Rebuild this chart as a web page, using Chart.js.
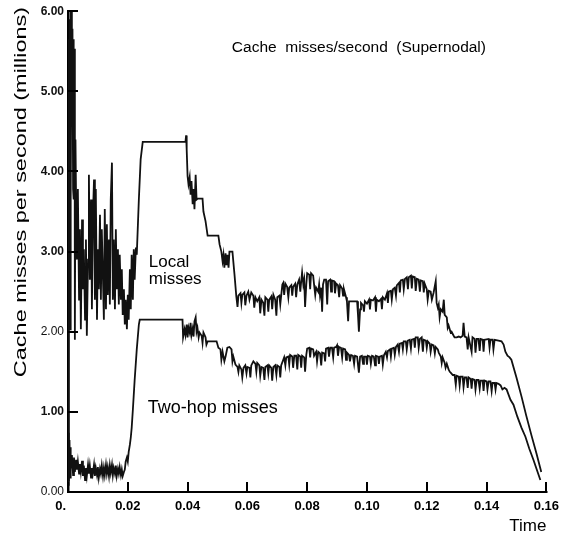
<!DOCTYPE html>
<html>
<head>
<meta charset="utf-8">
<script src="https://cdn.jsdelivr.net/npm/chart.js@4"></script>
<style>
  html, body { margin: 0; padding: 0; background: #fff; }
  #wrap { width: 566px; height: 539px; }
</style>
</head>
<body>
<div id="wrap"><canvas id="misses-chart"></canvas></div>
<script>
const xTickLabels = ['0.', '0.02', '0.04', '0.06', '0.08', '0.10', '0.12', '0.14', '0.16'];
const yTickLabels = ['0.00', '1.00', '2.00', '3.00', '4.00', '5.00', '6.00'];

// [time (s), misses per second (millions)]
const localMisses = [
  [0.0000,0.15],[0.0002,5.65],[0.0003,2.40],[0.0005,5.90],[0.0007,2.03],[0.0008,6.00],[0.0010,3.65],[0.0012,6.00],
  [0.0013,4.65],[0.0015,5.78],[0.0017,3.78],[0.0018,5.65],[0.0020,3.65],[0.0022,5.53],[0.0023,1.90],[0.0025,4.40],
  [0.0027,3.65],[0.0030,2.90],[0.0033,3.78],[0.0037,2.40],[0.0040,3.28],[0.0043,2.03],[0.0047,3.40],[0.0050,2.53],
  [0.0053,3.03],[0.0057,2.15],[0.0060,3.15],[0.0063,1.95],[0.0067,2.90],[0.0070,3.96],[0.0073,2.65],[0.0077,3.65],
  [0.0080,2.28],[0.0083,3.40],[0.0087,3.90],[0.0090,2.40],[0.0093,3.78],[0.0097,2.15],[0.0100,3.03],[0.0103,2.53],
  [0.0107,3.46],[0.0110,2.40],[0.0113,3.28],[0.0117,2.65],[0.0120,2.15],[0.0123,3.53],[0.0127,2.28],[0.0130,3.34],
  [0.0133,2.46],[0.0137,3.15],[0.0140,2.34],[0.0143,3.65],[0.0147,4.11],[0.0150,2.40],[0.0153,3.15],[0.0157,2.28],
  [0.0160,3.28],[0.0163,2.53],[0.0167,3.03],[0.0170,2.34],[0.0173,2.96],[0.0177,2.40],[0.0180,2.78],[0.0183,2.21],
  [0.0187,2.53],[0.0190,2.09],[0.0193,2.40],[0.0197,2.03],[0.0200,2.46],[0.0203,2.15],[0.0207,2.78],[0.0210,2.28],
  [0.0213,2.96],[0.0217,2.40],[0.0220,3.03],[0.0223,2.65],[0.0227,3.05],[0.0230,2.96],[0.0237,3.65],[0.0243,4.15],
  [0.0250,4.37],[0.0393,4.37],[0.0395,4.45],[0.0397,4.27],[0.0400,3.94],[0.0403,3.84],[0.0407,3.93],[0.0410,3.71],
  [0.0413,3.88],[0.0417,3.59],[0.0420,3.78],[0.0423,3.53],[0.0427,3.96],[0.0430,3.65],[0.0433,3.66],[0.0450,3.66],
  [0.0453,3.50],[0.0460,3.38],[0.0467,3.20],[0.0503,3.20],[0.0507,3.09],[0.0513,3.00],[0.0517,2.88],[0.0520,2.96],
  [0.0523,2.80],[0.0527,2.98],[0.0530,2.83],[0.0533,2.96],[0.0537,2.80],[0.0540,3.00],[0.0550,3.00],[0.0557,2.71],
  [0.0563,2.44],[0.0567,2.31],[0.0570,2.45],[0.0577,2.48],[0.0580,2.36],[0.0583,2.46],[0.0590,2.49],[0.0593,2.33],
  [0.0597,2.45],[0.0603,2.50],[0.0607,2.40],[0.0613,2.49],[0.0620,2.45],[0.0623,2.30],[0.0627,2.43],[0.0633,2.38],
  [0.0640,2.43],[0.0643,2.23],[0.0647,2.40],[0.0653,2.36],[0.0657,2.20],[0.0660,2.43],[0.0667,2.40],[0.0670,2.25],
  [0.0673,2.40],[0.0680,2.44],[0.0683,2.28],[0.0687,2.46],[0.0693,2.40],[0.0697,2.20],[0.0700,2.43],[0.0707,2.45],
  [0.0710,2.34],[0.0717,2.59],[0.0720,2.61],[0.0723,2.46],[0.0727,2.60],[0.0733,2.56],[0.0737,2.43],[0.0740,2.55],
  [0.0747,2.58],[0.0750,2.45],[0.0753,2.56],[0.0760,2.60],[0.0763,2.43],[0.0767,2.59],[0.0773,2.65],[0.0777,2.50],
  [0.0780,2.63],[0.0783,2.74],[0.0787,2.59],[0.0790,2.65],[0.0793,2.31],[0.0797,2.59],[0.0800,2.73],[0.0807,2.71],
  [0.0810,2.53],[0.0813,2.73],[0.0820,2.70],[0.0823,2.59],[0.0827,2.46],[0.0830,2.55],[0.0837,2.50],[0.0840,2.59],
  [0.0843,2.45],[0.0847,2.55],[0.0850,2.25],[0.0853,2.59],[0.0857,2.65],[0.0863,2.65],[0.0867,2.34],[0.0870,2.63],
  [0.0877,2.65],[0.0880,2.50],[0.0883,2.64],[0.0890,2.63],[0.0893,2.48],[0.0897,2.60],[0.0903,2.58],[0.0907,2.43],
  [0.0910,2.58],[0.0917,2.54],[0.0920,2.45],[0.0923,2.53],[0.0930,2.43],[0.0933,2.38],[0.0937,2.13],[0.0940,2.38],
  [0.0967,2.38],[0.0970,2.21],[0.0973,2.00],[0.0977,2.28],[0.0980,2.36],[0.0987,2.33],[0.0990,2.25],[0.0993,2.38],
  [0.1000,2.35],[0.1007,2.40],[0.1010,2.28],[0.1013,2.40],[0.1020,2.39],[0.1027,2.43],[0.1030,2.25],[0.1033,2.40],
  [0.1040,2.38],[0.1047,2.41],[0.1050,2.28],[0.1053,2.43],[0.1060,2.40],[0.1067,2.48],[0.1070,2.36],[0.1073,2.50],
  [0.1080,2.51],[0.1083,2.40],[0.1087,2.53],[0.1093,2.55],[0.1097,2.45],[0.1100,2.58],[0.1107,2.61],[0.1110,2.49],
  [0.1113,2.64],[0.1120,2.65],[0.1123,2.53],[0.1127,2.66],[0.1133,2.68],[0.1137,2.53],[0.1140,2.68],[0.1147,2.70],
  [0.1150,2.54],[0.1153,2.69],[0.1160,2.68],[0.1163,2.51],[0.1167,2.66],[0.1173,2.65],[0.1177,2.50],[0.1180,2.64],
  [0.1187,2.63],[0.1190,2.49],[0.1193,2.60],[0.1200,2.53],[0.1203,2.40],[0.1207,2.51],[0.1213,2.50],[0.1217,2.40],
  [0.1223,2.49],[0.1230,2.63],[0.1233,2.36],[0.1237,2.30],[0.1240,2.34],[0.1243,2.18],[0.1247,2.28],[0.1253,2.25],
  [0.1257,2.40],[0.1260,2.21],[0.1267,2.18],[0.1270,2.05],[0.1273,2.08],[0.1280,1.99],[0.1283,2.00],[0.1290,1.95],
  [0.1293,1.93],[0.1300,1.93],[0.1307,1.94],[0.1313,1.93],[0.1320,1.95],[0.1323,2.11],[0.1327,1.94],[0.1333,1.93],
  [0.1337,1.78],[0.1340,1.93],[0.1350,1.75],[0.1353,1.93],[0.1360,1.91],[0.1363,1.74],[0.1367,1.91],[0.1373,1.91],
  [0.1377,1.76],[0.1380,1.91],[0.1387,1.90],[0.1390,1.75],[0.1393,1.90],[0.1407,1.91],[0.1410,1.80],[0.1413,1.90],
  [0.1420,1.90],[0.1423,1.78],[0.1427,1.90],[0.1440,1.89],[0.1450,1.88],[0.1457,1.84],[0.1463,1.75],[0.1470,1.70],
  [0.1477,1.68],[0.1483,1.65],[0.1500,1.43],[0.1517,1.19],[0.1533,0.95],[0.1550,0.71],[0.1567,0.48],[0.1583,0.25]
];

const twoHopMisses = [
  [0.0000,0.09],[0.0002,0.74],[0.0003,0.15],[0.0005,0.65],[0.0007,0.18],[0.0008,0.56],[0.0010,0.28],[0.0013,0.46],
  [0.0017,0.21],[0.0020,0.43],[0.0023,0.25],[0.0027,0.40],[0.0030,0.28],[0.0033,0.38],[0.0037,0.23],[0.0040,0.35],
  [0.0043,0.25],[0.0047,0.39],[0.0050,0.20],[0.0053,0.33],[0.0057,0.15],[0.0060,0.30],[0.0063,0.20],[0.0067,0.34],
  [0.0070,0.23],[0.0073,0.33],[0.0077,0.18],[0.0080,0.30],[0.0083,0.23],[0.0087,0.34],[0.0090,0.20],[0.0093,0.30],
  [0.0097,0.21],[0.0100,0.31],[0.0103,0.18],[0.0107,0.29],[0.0110,0.23],[0.0113,0.33],[0.0117,0.20],[0.0120,0.30],
  [0.0123,0.21],[0.0127,0.34],[0.0130,0.23],[0.0133,0.31],[0.0137,0.20],[0.0140,0.33],[0.0143,0.24],[0.0147,0.34],
  [0.0150,0.21],[0.0153,0.30],[0.0157,0.23],[0.0160,0.33],[0.0163,0.20],[0.0167,0.29],[0.0170,0.23],[0.0173,0.31],
  [0.0177,0.21],[0.0180,0.28],[0.0183,0.20],[0.0187,0.25],[0.0190,0.28],[0.0193,0.38],[0.0197,0.43],[0.0200,0.38],
  [0.0203,0.50],[0.0207,0.59],[0.0210,0.68],[0.0213,0.80],[0.0217,1.03],[0.0223,1.40],[0.0230,1.78],[0.0237,2.09],
  [0.0240,2.15],[0.0383,2.15],[0.0385,1.93],[0.0390,2.03],[0.0393,1.96],[0.0397,2.09],[0.0400,1.93],[0.0403,2.05],
  [0.0407,1.99],[0.0410,2.11],[0.0413,1.96],[0.0417,2.04],[0.0420,1.94],[0.0423,2.13],[0.0427,2.18],[0.0430,2.00],
  [0.0433,2.05],[0.0437,1.93],[0.0440,1.99],[0.0447,1.95],[0.0450,1.86],[0.0453,1.99],[0.0460,1.93],[0.0463,1.84],
  [0.0467,1.88],[0.0497,1.88],[0.0503,1.80],[0.0510,1.78],[0.0513,1.65],[0.0517,1.75],[0.0523,1.63],[0.0527,1.69],
  [0.0533,1.80],[0.0540,1.81],[0.0547,1.78],[0.0550,1.63],[0.0553,1.69],[0.0560,1.59],[0.0567,1.56],[0.0570,1.50],
  [0.0573,1.58],[0.0580,1.53],[0.0583,1.43],[0.0587,1.55],[0.0593,1.58],[0.0597,1.48],[0.0600,1.56],[0.0607,1.55],
  [0.0610,1.43],[0.0613,1.58],[0.0620,1.63],[0.0627,1.60],[0.0630,1.50],[0.0633,1.61],[0.0640,1.58],[0.0643,1.45],
  [0.0647,1.56],[0.0653,1.55],[0.0657,1.40],[0.0660,1.56],[0.0667,1.58],[0.0670,1.48],[0.0673,1.58],[0.0680,1.55],
  [0.0683,1.39],[0.0687,1.56],[0.0693,1.58],[0.0697,1.46],[0.0700,1.58],[0.0707,1.56],[0.0710,1.43],[0.0713,1.58],
  [0.0720,1.65],[0.0723,1.68],[0.0727,1.58],[0.0730,1.68],[0.0737,1.69],[0.0740,1.59],[0.0743,1.71],[0.0750,1.69],
  [0.0753,1.55],[0.0757,1.70],[0.0763,1.70],[0.0767,1.53],[0.0770,1.71],[0.0777,1.69],[0.0780,1.55],[0.0783,1.70],
  [0.0790,1.68],[0.0793,1.50],[0.0797,1.71],[0.0800,1.79],[0.0807,1.80],[0.0810,1.68],[0.0813,1.79],[0.0820,1.78],
  [0.0823,1.70],[0.0830,1.75],[0.0833,1.63],[0.0837,1.75],[0.0843,1.73],[0.0847,1.58],[0.0850,1.74],[0.0857,1.73],
  [0.0860,1.63],[0.0863,1.79],[0.0870,1.80],[0.0873,1.69],[0.0877,1.80],[0.0883,1.80],[0.0887,1.68],[0.0890,1.80],
  [0.0897,1.81],[0.0900,1.83],[0.0903,1.70],[0.0907,1.81],[0.0913,1.80],[0.0917,1.68],[0.0920,1.79],[0.0927,1.78],
  [0.0930,1.65],[0.0933,1.74],[0.0940,1.71],[0.0943,1.63],[0.0947,1.71],[0.0953,1.70],[0.0957,1.60],[0.0960,1.70],
  [0.0967,1.69],[0.0973,1.49],[0.0977,1.69],[0.0983,1.70],[0.0987,1.60],[0.0990,1.69],[0.0997,1.69],[0.1000,1.59],
  [0.1003,1.70],[0.1010,1.69],[0.1013,1.60],[0.1017,1.70],[0.1023,1.69],[0.1027,1.58],[0.1030,1.70],[0.1037,1.69],
  [0.1040,1.60],[0.1043,1.69],[0.1050,1.70],[0.1053,1.59],[0.1057,1.71],[0.1063,1.75],[0.1067,1.68],[0.1070,1.76],
  [0.1077,1.78],[0.1080,1.69],[0.1083,1.79],[0.1090,1.80],[0.1093,1.71],[0.1097,1.81],[0.1103,1.84],[0.1107,1.75],
  [0.1110,1.85],[0.1117,1.86],[0.1120,1.78],[0.1123,1.88],[0.1130,1.88],[0.1133,1.78],[0.1137,1.89],[0.1143,1.90],
  [0.1147,1.79],[0.1150,1.90],[0.1157,1.91],[0.1160,1.80],[0.1163,1.93],[0.1170,1.93],[0.1173,1.80],[0.1177,1.91],
  [0.1183,1.93],[0.1187,1.75],[0.1190,1.90],[0.1197,1.89],[0.1200,1.80],[0.1203,1.88],[0.1210,1.85],[0.1213,1.75],
  [0.1217,1.84],[0.1223,1.83],[0.1227,1.73],[0.1230,1.81],[0.1237,1.78],[0.1240,1.74],[0.1247,1.69],[0.1250,1.61],
  [0.1253,1.68],[0.1260,1.61],[0.1263,1.55],[0.1267,1.60],[0.1273,1.53],[0.1277,1.50],[0.1280,1.49],[0.1287,1.46],
  [0.1293,1.46],[0.1297,1.34],[0.1300,1.45],[0.1307,1.44],[0.1310,1.33],[0.1313,1.44],[0.1320,1.44],[0.1323,1.31],
  [0.1327,1.43],[0.1333,1.43],[0.1337,1.30],[0.1340,1.43],[0.1347,1.41],[0.1350,1.29],[0.1353,1.41],[0.1360,1.40],
  [0.1363,1.28],[0.1367,1.40],[0.1373,1.40],[0.1377,1.29],[0.1380,1.39],[0.1387,1.39],[0.1390,1.26],[0.1393,1.39],
  [0.1400,1.38],[0.1403,1.28],[0.1407,1.38],[0.1413,1.38],[0.1417,1.26],[0.1420,1.36],[0.1427,1.36],[0.1430,1.28],
  [0.1433,1.36],[0.1440,1.35],[0.1447,1.33],[0.1453,1.28],[0.1460,1.30],[0.1467,1.28],[0.1480,1.15],[0.1490,1.09],
  [0.1503,0.94],[0.1517,0.80],[0.1530,0.69],[0.1543,0.54],[0.1557,0.40],[0.1567,0.29],[0.1580,0.15]
];

const FONT = '"Liberation Sans", Arial, Helvetica, sans-serif';
const TICK_LEN = 10;

// tick marks point into the plot, so they are drawn here rather than by the scales
const inwardTicks = {
  id: 'inwardTicks',
  afterDatasetsDraw(chart) {
    const { ctx, chartArea, scales: { x, y } } = chart;
    ctx.save();
    ctx.strokeStyle = '#000';
    ctx.lineWidth = 2;
    ctx.beginPath();
    y.ticks.forEach(t => {
      const py = Math.round(y.getPixelForValue(t.value));
      ctx.moveTo(chartArea.left, py);
      ctx.lineTo(chartArea.left + TICK_LEN, py);
    });
    x.ticks.forEach(t => {
      const px = Math.round(x.getPixelForValue(t.value));
      ctx.moveTo(px, chartArea.bottom);
      ctx.lineTo(px, chartArea.bottom - TICK_LEN);
    });
    ctx.stroke();
    ctx.restore();
  }
};

// free text inside the plot plus the rotated y-axis caption
const plotText = {
  id: 'plotText',
  afterDraw(chart) {
    const { ctx, scales: { x, y } } = chart;
    ctx.save();
    ctx.fillStyle = '#000';
    ctx.textBaseline = 'alphabetic';

    ctx.font = '15.5px ' + FONT;
    ctx.textAlign = 'center';
    ctx.fillText('Cache  misses/second  (Supernodal)', x.getPixelForValue(0.0973), y.getPixelForValue(5.49));

    ctx.font = '17px ' + FONT;
    ctx.textAlign = 'left';
    ctx.fillText('Local', x.getPixelForValue(0.027), y.getPixelForValue(2.81));
    ctx.fillText('misses', x.getPixelForValue(0.027), y.getPixelForValue(2.60));
    ctx.font = '18px ' + FONT;
    ctx.fillText('Two-hop misses', x.getPixelForValue(0.0267), y.getPixelForValue(0.99));

    // y caption is set wide, so stretch it along its length
    ctx.translate(26, 192);
    ctx.rotate(-Math.PI / 2);
    ctx.scale(1.38, 1);
    ctx.font = '17px ' + FONT;
    ctx.textAlign = 'center';
    ctx.fillText('Cache misses per second (millions)', 0, 0);
    ctx.restore();
  }
};

const toPoints = rows => rows.map(r => ({ x: r[0], y: r[1] }));

new Chart(document.getElementById('misses-chart'), {
  type: 'line',
  data: {
    datasets: [{
      label: 'Local misses',
      data: toPoints(localMisses),
      borderColor: '#111',
      borderWidth: 1.8,
      pointRadius: 0,
      tension: 0
    }, {
      label: 'Two-hop misses',
      data: toPoints(twoHopMisses),
      borderColor: '#111',
      borderWidth: 1.8,
      pointRadius: 0,
      tension: 0
    }]
  },
  options: {
    responsive: true,
    maintainAspectRatio: false,
    devicePixelRatio: 1,
    animation: false,
    layout: { padding: { left: 0, right: 5, top: 4, bottom: 0 } },
    plugins: {
      legend: { display: false },
      tooltip: { enabled: false }
    },
    scales: {
      x: {
        type: 'linear',
        min: 0,
        max: 0.16,
        afterFit: scale => { scale.height = 47; },
        border: { display: true, color: '#000', width: 2 },
        grid: { drawOnChartArea: false, drawTicks: false, color: '#000', lineWidth: 1.5 },
        ticks: {
          stepSize: 0.02,
          padding: 7,
          maxRotation: 0,
          color: '#000',
          font: { family: FONT, size: 13, weight: 'bold' },
          callback: (value, index) => index === 0 ? xTickLabels[0] + '    ' : xTickLabels[index]
        },
        title: {
          display: true,
          text: 'Time',
          align: 'end',
          color: '#000',
          padding: { top: 0, bottom: 2 },
          font: { family: FONT, size: 17 }
        }
      },
      y: {
        min: 0,
        max: 6,
        afterFit: scale => { scale.width = 68; },
        border: { display: true, color: '#000', width: 2.5 },
        grid: { drawOnChartArea: false, drawTicks: false, color: '#000', lineWidth: 1.5 },
        ticks: {
          stepSize: 1,
          padding: 4,
          color: '#111',
          font: ctx => ({
            family: FONT,
            size: 12,
            weight: (ctx.tick && (ctx.tick.value === 0 || ctx.tick.value === 2)) ? 'normal' : 'bold'
          }),
          callback: (value, index) => yTickLabels[index]
        }
      }
    }
  },
  plugins: [inwardTicks, plotText]
});
</script>
</body>
</html>
